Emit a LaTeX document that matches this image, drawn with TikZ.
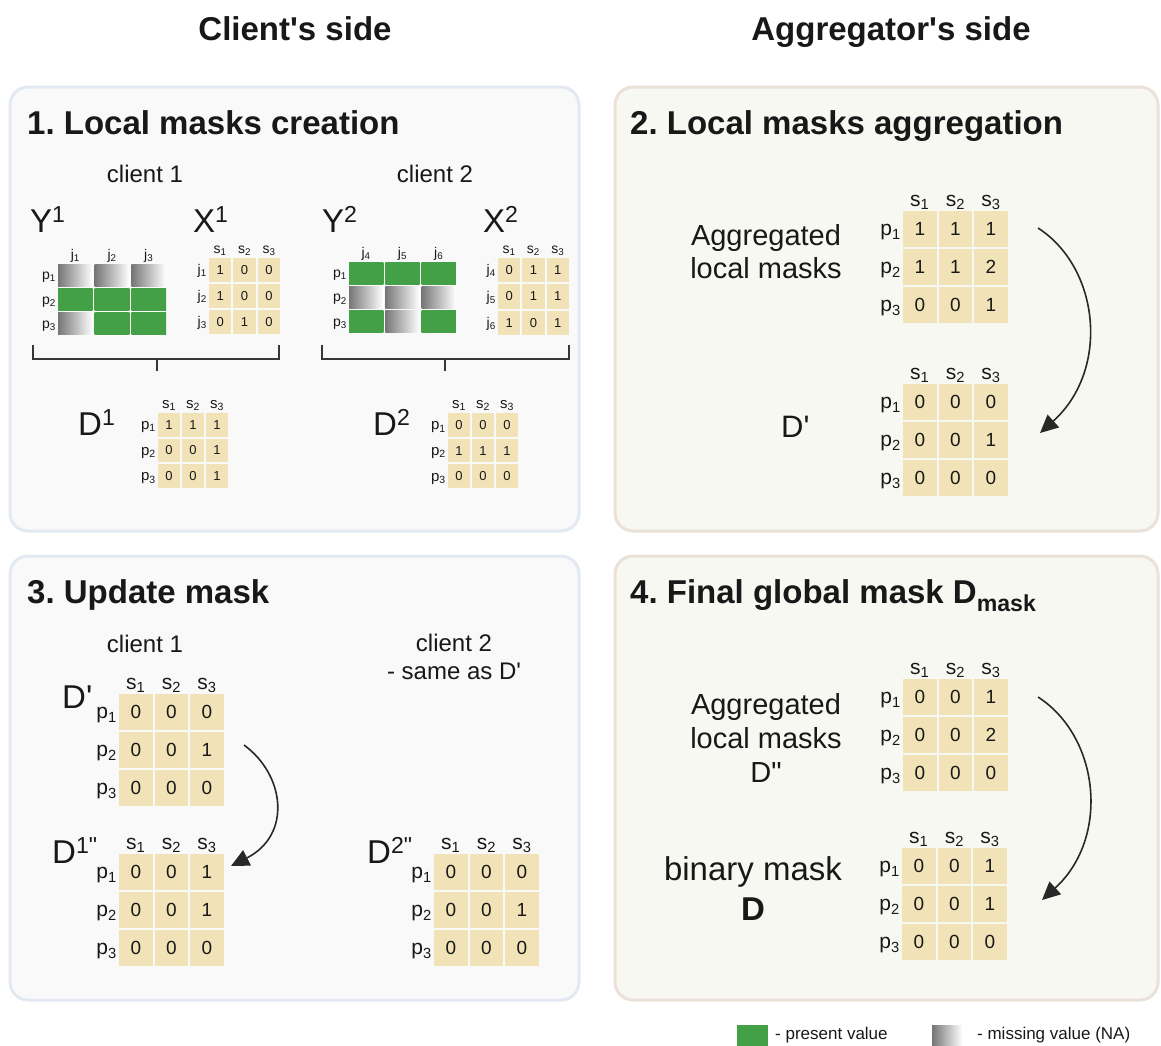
\documentclass[tikz,border=0pt]{standalone}
\usepackage{fontspec}
\setmainfont{Liberation Sans}
\usetikzlibrary{arrows.meta}
\frenchspacing

\definecolor{ink}{RGB}{24,24,24}
\definecolor{cellc}{RGB}{241,227,183}
\definecolor{present}{RGB}{67,160,71}
\definecolor{nagray}{RGB}{118,118,118}
\definecolor{fillA}{RGB}{249,249,249}
\definecolor{bordA}{RGB}{227,233,243}
\definecolor{fillB}{RGB}{248,248,243}
\definecolor{bordB}{RGB}{234,225,217}
\definecolor{arrowc}{RGB}{40,40,40}
\definecolor{brc}{RGB}{55,55,55}

\newcommand\fs[1]{\fontsize{#1}{#1}\selectfont}

% 3x3 grid of value cells: name, left, top, column pitch, row pitch, digit size, values
\newcommand\cellsgrid[7]{%
  \foreach \cv [count=\k from 0] in {#7} {%
    \pgfmathtruncatemacro\gr{div(\k,3)}%
    \pgfmathtruncatemacro\gc{mod(\k,3)}%
    \node[cell, minimum width={#4-2}, minimum height={#5-2}, font=\fs{#6}]
      (#1-\gr\gc) at ({#2+(\gc+0.5)*#4},{#3+(\gr+0.5)*#5}) {\cv};
  }%
}
% 3x3 grid of present (1) / missing (0) cells: name, left, top, column pitch, row pitch, pattern
\newcommand\maskgrid[6]{%
  \foreach \cv [count=\k from 0] in {#6} {%
    \pgfmathtruncatemacro\gr{div(\k,3)}%
    \pgfmathtruncatemacro\gc{mod(\k,3)}%
    \ifnum\cv=1 \def\lc{present}\def\rc{present}\else\def\lc{nagray}\def\rc{white}\fi
    \node[minimum width={#4-2}, minimum height={#5-2}, left color=\lc, right color=\rc]
      (#1-\gr\gc) at ({#2+(\gc+0.5)*#4},{#3+(\gr+0.5)*#5}) {};
  }%
}
% column headers: name, left, top, column pitch, size, letter, first index
\newcommand\toplabels[7]{%
  \foreach \i in {0,1,2} {%
    \pgfmathtruncatemacro\nn{#7+\i}%
    \node[font=\fs{#5}, anchor=base] (#1-t\i) at ({#2+(\i+0.5)*#4},{#3-4}) {#6\textsubscript{\nn}};
  }%
}
% row headers: name, left, top, row pitch, size, letter, first index
\newcommand\sidelabels[7]{%
  \foreach \i in {0,1,2} {%
    \pgfmathtruncatemacro\nn{#7+\i}%
    \node[font=\fs{#5}, anchor=base east] (#1-r\i) at ({#2-1},{#3+(\i+0.5)*#4+0.33*#5}) {#6\textsubscript{\nn}};
  }%
}

\tikzset{
  every node/.style={text=ink, inner sep=0pt},
  cell/.style={fill=cellc, text=ink},
  panelA/.style={draw=bordA, fill=fillA, line width=3pt, rounded corners=18pt},
  panelB/.style={draw=bordB, fill=fillB, line width=3pt, rounded corners=18pt},
  heading/.style={font=\bfseries\fs{33}, anchor=base west},
  side/.style={font=\bfseries\fs{33}, anchor=base},
  plain/.style={font=\fs{24}, anchor=base},
  bigname/.style={font=\fs{33}, anchor=base west},
  flow/.style={draw=arrowc, line width=1.6pt, -{Triangle[length=18pt,width=17pt]}},
  bracket/.style={draw=brc, line width=2pt},
}

\begin{document}
\begin{tikzpicture}[x=1pt,y=-1pt]
\useasboundingbox (0,0) rectangle (1161,1045);

% column titles
\node[side] (clientside) at (295,40) {Client\textquotesingle s side};
\node[side] (aggside) at (891,40) {Aggregator\textquotesingle s side};

% panels
\draw[panelA] (10,87) rectangle (579,531);
\draw[panelB] (615,87) rectangle (1158,531);
\draw[panelA] (10,556) rectangle (579,1000);
\draw[panelB] (615,556) rectangle (1158,1000);

% ---------- 1. Local masks creation ----------
\node[heading] (h1) at (27,134) {1. Local masks creation};
\node[plain] (c1a) at (145,182) {client 1};
\node[plain] (c2a) at (435,182) {client 2};

\node[bigname] (Y1) at (30,232) {Y\textsuperscript{1}};
\node[bigname] (X1) at (193,232) {X\textsuperscript{1}};
\node[bigname] (Y2) at (322,232) {Y\textsuperscript{2}};
\node[bigname] (X2) at (483,232) {X\textsuperscript{2}};

\maskgrid{ya}{57}{263}{36.7}{24.3}{0,0,0,1,1,1,0,1,1}
\toplabels{ya}{57}{263}{36.7}{14}{j}{1}
\sidelabels{ya}{57}{263}{24.3}{14}{p}{1}

\cellsgrid{xa}{208}{257}{24.4}{26}{13}{1,0,0,1,0,0,0,1,0}
\toplabels{xa}{208}{257}{24.4}{14}{s}{1}
\sidelabels{xa}{208}{257}{26}{14}{j}{1}

\maskgrid{yb}{348}{261}{36.3}{24.2}{1,1,1,0,0,0,1,0,1}
\toplabels{yb}{348}{261}{36.3}{14}{j}{4}
\sidelabels{yb}{348}{261}{24.2}{14}{p}{1}

\cellsgrid{xb}{497}{257}{24.3}{26.3}{13}{0,1,1,0,1,1,1,0,1}
\toplabels{xb}{497}{257}{24.3}{14}{s}{1}
\sidelabels{xb}{497}{257}{26.3}{14}{j}{4}

% braces joining each client's two tables
\draw[bracket] (33,345) -- (33,359) -- (279,359) -- (279,345);
\draw[bracket] (157,359) -- (157,371);
\draw[bracket] (322,345) -- (322,359) -- (569,359) -- (569,345);
\draw[bracket] (445,359) -- (445,371);

\node[bigname] (D1) at (78,435) {D\textsuperscript{1}};
\cellsgrid{da}{157}{412}{24}{25.5}{13}{1,1,1,0,0,1,0,0,1}
\toplabels{da}{157}{412}{24}{15}{s}{1}
\sidelabels{da}{157}{412}{25.5}{15}{p}{1}

\node[bigname] (D2) at (373,435) {D\textsuperscript{2}};
\cellsgrid{db}{447}{412}{24}{25.7}{13}{0,0,0,1,1,1,0,0,0}
\toplabels{db}{447}{412}{24}{15}{s}{1}
\sidelabels{db}{447}{412}{25.7}{15}{p}{1}

% ---------- 2. Local masks aggregation ----------
\node[heading] (h2) at (630,134) {2. Local masks aggregation};
\node[font=\fs{29}, anchor=base] (agg1a) at (766,245) {Aggregated};
\node[font=\fs{29}, anchor=base] (agg1b) at (766,278) {local masks};
\cellsgrid{ag}{902}{210}{35.6}{38}{19}{1,1,1,1,1,2,0,0,1}
\toplabels{ag}{902}{210}{35.6}{21}{s}{1}
\sidelabels{ag}{902}{210}{38}{21}{p}{1}

\node[font=\fs{31}, anchor=base west] (Dp) at (781,437) {D\textquotesingle};
\cellsgrid{dp}{902}{383}{35.6}{38}{19}{0,0,0,0,0,1,0,0,0}
\toplabels{dp}{902}{383}{35.6}{21}{s}{1}
\sidelabels{dp}{902}{383}{38}{21}{p}{1}

\coordinate (a2s) at (1038,228);
\coordinate (a2e) at (1040,433);
\draw[flow] (a2s) .. controls (1100,268) and (1110,370) .. (a2e);

% ---------- 3. Update mask ----------
\node[heading] (h3) at (27,603) {3. Update mask};
\node[plain] (c1b) at (145,652) {client 1};
\node[plain] (c2b) at (454,651) {client 2};
\node[plain] (c2c) at (454,679) {- same as D\textquotesingle};

\node[bigname] (Dq) at (62,708) {D\textquotesingle};
\cellsgrid{dq}{118}{693}{35.6}{38}{19}{0,0,0,0,0,1,0,0,0}
\toplabels{dq}{118}{693}{35.6}{21}{s}{1}
\sidelabels{dq}{118}{693}{38}{21}{p}{1}

\node[bigname] (D1u) at (52,863) {D\textsuperscript{1\textquotedbl}};
\cellsgrid{du}{118}{853}{35.6}{38}{19}{0,0,1,0,0,1,0,0,0}
\toplabels{du}{118}{853}{35.6}{21}{s}{1}
\sidelabels{du}{118}{853}{38}{21}{p}{1}

\node[bigname] (D2u) at (367,863) {D\textsuperscript{2\textquotedbl}};
\cellsgrid{dv}{433}{853}{35.6}{38}{19}{0,0,0,0,0,1,0,0,0}
\toplabels{dv}{433}{853}{35.6}{21}{s}{1}
\sidelabels{dv}{433}{853}{38}{21}{p}{1}

\coordinate (a3s) at (244,745);
\coordinate (a3e) at (231,866);
\draw[flow] (a3s) .. controls (285,775) and (292,835) .. (a3e);

% ---------- 4. Final global mask ----------
\node[heading] (h4) at (630,603) {4. Final global mask D\textsubscript{mask}};
\node[font=\fs{29}, anchor=base] (agg2a) at (766,714) {Aggregated};
\node[font=\fs{29}, anchor=base] (agg2b) at (766,748) {local masks};
\node[font=\fs{29}, anchor=base] (agg2c) at (766,782) {D\textquotedbl};
\cellsgrid{dg}{902}{678}{35.6}{38}{19}{0,0,1,0,0,2,0,0,0}
\toplabels{dg}{902}{678}{35.6}{21}{s}{1}
\sidelabels{dg}{902}{678}{38}{21}{p}{1}

\node[font=\fs{33}, anchor=base] (bin) at (753,880) {binary mask};
\node[font=\bfseries\fs{33}, anchor=base] (binD) at (753,920) {D};
\cellsgrid{dm}{901}{847}{35.6}{38}{19}{0,0,1,0,0,1,0,0,0}
\toplabels{dm}{901}{847}{35.6}{21}{s}{1}
\sidelabels{dm}{901}{847}{38}{21}{p}{1}

\coordinate (a4s) at (1038,697);
\coordinate (a4e) at (1042,900);
\draw[flow] (a4s) .. controls (1100,737) and (1110,838) .. (a4e);

% ---------- legend ----------
\node[fill=present, minimum width=31, minimum height=24, anchor=north west] (legG) at (737,1025) {};
\node[font=\fs{17}, anchor=west] (legGt) at (775,1035) {- present value};
\node[left color=nagray, right color=white, minimum width=30, minimum height=24, anchor=north west] (legN) at (932,1025) {};
\node[font=\fs{17}, anchor=west] (legNt) at (977,1035) {- missing value (NA)};
\end{tikzpicture}
\end{document}
